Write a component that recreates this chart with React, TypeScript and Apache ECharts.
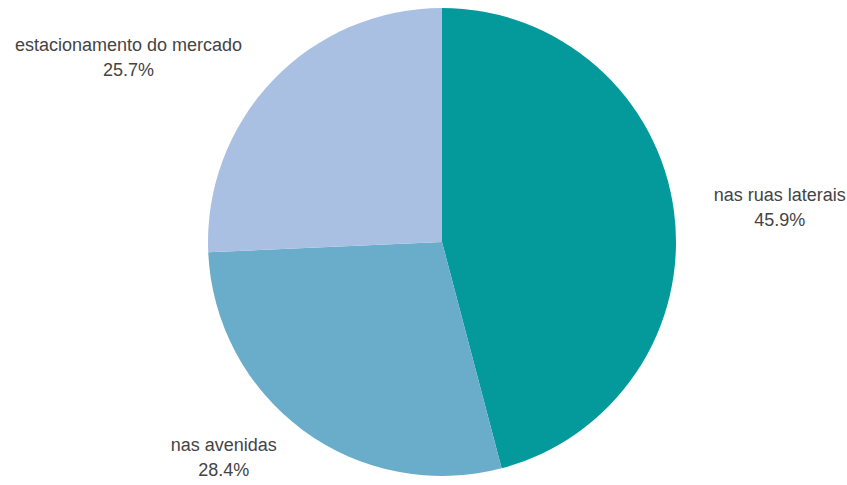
import React, { useEffect, useRef } from "react";
import * as echarts from "echarts";

const categories = ["nas ruas laterais", "nas avenidas", "estacionamento do mercado"];
const values = [45.9, 28.4, 25.7];
const colors = ["#049a9b", "#69adca", "#aac0e2"];

export default function App() {
  const ref = useRef<HTMLDivElement>(null);
  useEffect(() => {
    document.body.style.margin = "0";
    const chart = echarts.init(ref.current!, undefined, { renderer: "svg" });
    chart.setOption({
      animation: false,
      backgroundColor: "#ffffff",
      series: [
        {
          type: "pie",
          center: [442, 242],
          radius: 234,
          startAngle: 90,
          clockwise: true,
          avoidLabelOverlap: false,
          data: categories.map((c, i) => ({
            name: c,
            value: values[i],
            itemStyle: { color: colors[i] },
          })),
          label: {
            show: true,
            position: "outside",
            formatter: (p: any) => `{a|${p.name}}\n{a|${p.value.toFixed(1)}%}`,
            rich: {
              a: {
                align: "center",
                fontSize: 18,
                lineHeight: 25,
                color: "#444444",
                fontFamily: "Liberation Sans, Arial, sans-serif",
              },
            },
          },
          labelLine: { show: false, length: 33, length2: 2 },
        },
      ],
    });
    return () => chart.dispose();
  }, []);
  return <div ref={ref} style={{ width: 847, height: 485 }} />;
}
